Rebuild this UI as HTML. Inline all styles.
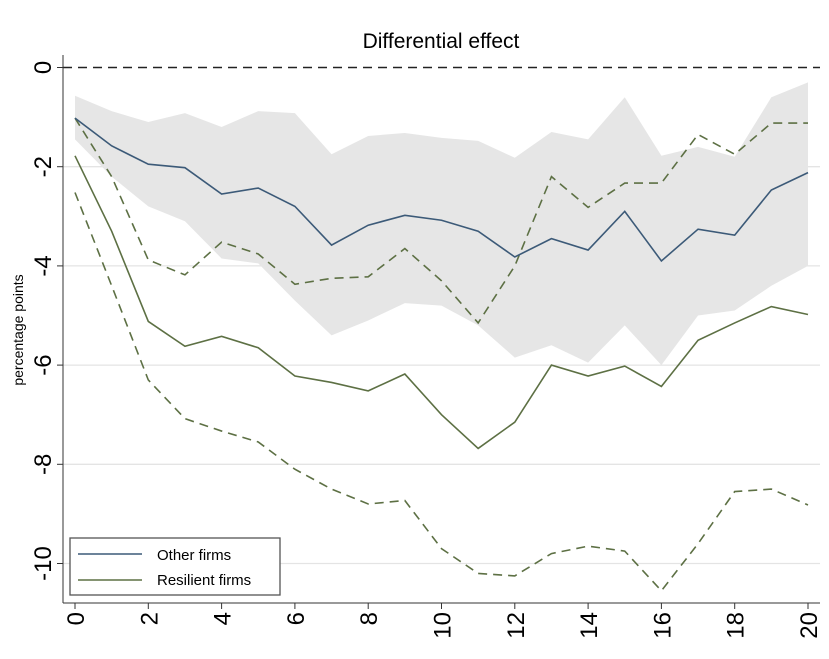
<!DOCTYPE html>
<html><head><meta charset="utf-8"><style>
body{margin:0;background:#fff;font-family:"Liberation Sans",Arial,sans-serif}
svg text{font-family:"Liberation Sans",Arial,sans-serif}
</style></head><body>
<svg id="chart" width="829" height="654">
<text x="441" y="48" text-anchor="middle" font-size="21">Differential effect</text>
<text transform="translate(23,330) rotate(-90)" text-anchor="middle" font-size="14">percentage points</text>
<g id="grid"></g><g id="band"></g><g id="lines"></g><g id="axes"></g>
<g>
<rect x="70" y="538" width="210" height="57" fill="#fff" stroke="#555" stroke-width="1.3"/>
<line x1="78" y1="554" x2="142" y2="554" stroke="#3c5a78" stroke-width="1.6"/>
<text x="157" y="560" font-size="15">Other firms</text>
<line x1="78" y1="580" x2="142" y2="580" stroke="#5d7044" stroke-width="1.6"/>
<text x="157" y="585" font-size="15">Resilient firms</text>
</g>
</svg>
<script>
const horizons=[0,1,2,3,4,5,6,7,8,9,10,11,12,13,14,15,16,17,18,19,20];
const otherFirms=[-1.02,-1.58,-1.95,-2.02,-2.55,-2.43,-2.8,-3.58,-3.18,-2.98,-3.08,-3.3,-3.82,-3.45,-3.68,-2.9,-3.9,-3.26,-3.38,-2.47,-2.12];
const otherUpper=[-0.57,-0.88,-1.1,-0.92,-1.2,-0.88,-0.92,-1.75,-1.38,-1.32,-1.42,-1.48,-1.82,-1.3,-1.45,-0.6,-1.78,-1.6,-1.8,-0.6,-0.3];
const otherLower=[-1.45,-2.2,-2.8,-3.1,-3.85,-3.95,-4.7,-5.4,-5.1,-4.75,-4.8,-5.2,-5.85,-5.6,-5.95,-5.2,-6.0,-5.0,-4.9,-4.4,-4.0];
const resilient=[-1.78,-3.3,-5.12,-5.62,-5.42,-5.65,-6.22,-6.35,-6.52,-6.18,-7.0,-7.68,-7.15,-6.0,-6.22,-6.02,-6.43,-5.5,-5.15,-4.82,-4.98];
const resilientUpper=[-1.02,-2.2,-3.88,-4.18,-3.52,-3.76,-4.37,-4.25,-4.22,-3.65,-4.3,-5.15,-4.0,-2.2,-2.82,-2.33,-2.33,-1.35,-1.75,-1.12,-1.12];
const resilientLower=[-2.52,-4.4,-6.3,-7.08,-7.33,-7.55,-8.1,-8.5,-8.8,-8.73,-9.7,-10.2,-10.25,-9.8,-9.65,-9.75,-10.55,-9.6,-8.55,-8.5,-8.82];
const yTicks=[0,-2,-4,-6,-8,-10];
const xTicks=[0,2,4,6,8,10,12,14,16,18,20];

const NS="http://www.w3.org/2000/svg";
const X=v=>75+v*36.65, Y=v=>67.5-v*49.6;
function mk(t,a,p){const e=document.createElementNS(NS,t);for(const k in a)e.setAttribute(k,a[k]);p.appendChild(e);return e;}
const grid=document.getElementById('grid'),band=document.getElementById('band'),lines=document.getElementById('lines'),axes=document.getElementById('axes');
yTicks.forEach(t=>{
  const l=mk('line',{x1:63,x2:820,y1:Y(t),y2:Y(t),stroke:t===0?'#222':'#e4e4e4','stroke-width':t===0?1.5:1.3,'stroke-dasharray':t===0?'9,6':'none'},t===0?lines:grid);
  
  
  mk('line',{x1:57,x2:63,y1:Y(t),y2:Y(t),stroke:'#333'},axes);
  const tx=mk('text',{transform:`translate(51,${Y(t)}) rotate(-90)`,'text-anchor':'middle','font-size':24},axes);
  tx.textContent=t;
  
  
});
xTicks.forEach(t=>{
  mk('line',{x1:X(t),x2:X(t),y1:603,y2:609,stroke:'#333'},axes);
  const tx=mk('text',{transform:`translate(${X(t)+9},612) rotate(-90)`,'text-anchor':'end','font-size':24},axes);
  tx.textContent=t;
  
  
});
mk('line',{x1:63,x2:63,y1:55,y2:603,stroke:'#333'},axes);
mk('line',{x1:63,x2:820,y1:603,y2:603,stroke:'#333'},axes);
const up=horizons.map((h,i)=>X(h)+','+Y(otherUpper[i]));
const lo=horizons.map((h,i)=>X(h)+','+Y(otherLower[i])).reverse();
const poly=mk('polygon',{points:up.concat(lo).join(' '),fill:'#e6e6e6'},band);


function line(arr,col,dash,name){
  const p=mk('polyline',{points:horizons.map((h,i)=>X(h)+','+Y(arr[i])).join(' '),fill:'none',stroke:col,'stroke-width':1.6,'stroke-dasharray':dash},lines);
  
  
}
line(resilientUpper,'#5d7044','9,6','resilient-upper-bound');
line(resilientLower,'#5d7044','9,6','resilient-lower-bound');
line(resilient,'#5d7044','none','resilient-firms-line');
line(otherFirms,'#3c5a78','none','other-firms-line');
</script>
</body></html>
